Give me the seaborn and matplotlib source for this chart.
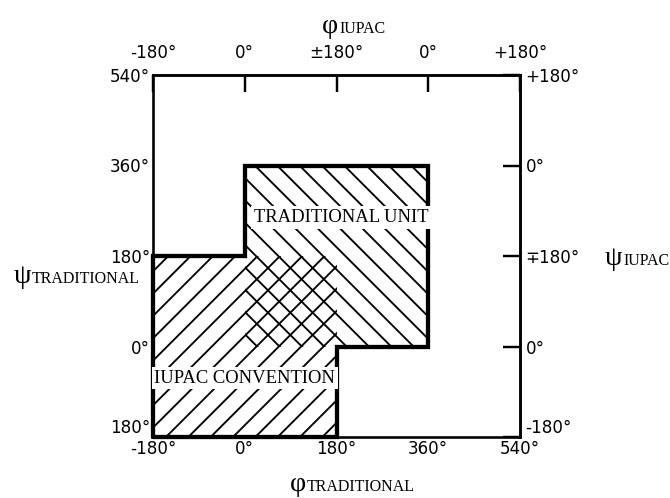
import matplotlib
matplotlib.use("Agg")
import matplotlib.pyplot as plt
import seaborn as sns
import pandas as pd

# ---- data ----
iupac_phi = [-180, 180]      # IUPAC convention range (phi, traditional units)
iupac_psi = [-180, 180]
trad_phi = [0, 360]          # traditional unit range
trad_psi = [0, 360]
ticks = [-180, 0, 180, 360, 540]
bottom_labels = ["-180°", "0°", "180°", "360°", "540°"]
left_labels = ["180°", "0°", "180°", "360°", "540°"]
top_labels = ["-180°", "0°", "±180°", "0°", "+180°"]
right_labels = ["-180°", "0°", "∓180°", "0°", "+180°"]
region_names = ["IUPAC CONVENTION", "TRADITIONAL UNIT"]

sns.set_theme(style="white")
plt.rcParams["font.family"] = ["DejaVu Sans"]
plt.rcParams["text.color"] = "black"
plt.rcParams["hatch.linewidth"] = 1.0
plt.rcParams["hatch.color"] = "black"

DPI = 134
W, H = 670, 498
fig = plt.figure(figsize=(W / DPI, H / DPI), dpi=DPI)
fig.patch.set_facecolor("white")
ax = fig.add_axes([153 / W, 1 - 437 / H, 367 / W, 362 / H])
ax.set_facecolor("white")

# hatched regions
ax.fill_between(iupac_phi, iupac_psi[0], iupac_psi[1], facecolor="none",
                edgecolor="black", linewidth=0, hatch="//", zorder=1)
ax.fill_between(trad_phi, trad_psi[0], trad_psi[1], facecolor="none",
                edgecolor="black", linewidth=0, hatch="\\\\", zorder=1)

# outline of union of both regions
outline = pd.DataFrame({
    "phi": [iupac_phi[0], iupac_phi[1], iupac_phi[1], trad_phi[1], trad_phi[1],
            trad_phi[0], trad_phi[0], iupac_phi[0], iupac_phi[0]],
    "psi": [iupac_psi[0], iupac_psi[0], trad_psi[0], trad_psi[0], trad_psi[1],
            trad_psi[1], iupac_psi[1], iupac_psi[1], iupac_psi[0]],
})
sns.lineplot(data=outline, x="phi", y="psi", sort=False, estimator=None,
             color="black", linewidth=2.3, ax=ax, zorder=3)
for ln in ax.lines:
    ln.set_solid_joinstyle("miter")
    ln.set_clip_on(False)

ax.set_xlim(-180, 540)
ax.set_ylim(-180, 540)
ax.set_xlabel("")
ax.set_ylabel("")
ax.set_xticks(ticks, bottom_labels)
ax.set_yticks(ticks, left_labels)
for s in ax.spines.values():
    s.set_color("black")
    s.set_linewidth(1.4)
ax.tick_params(axis="x", direction="in", length=9, width=1.3, pad=1.5,
               labelsize=9, colors="black")
ax.tick_params(axis="y", direction="in", length=9, width=1.3, pad=1.5,
               labelsize=9, colors="black")
ax.get_yticklabels()[0].set_va("bottom")

top = ax.secondary_xaxis("top")
top.set_xticks(ticks, top_labels)
top.tick_params(direction="in", length=9, width=1.3, pad=7, labelsize=9,
                colors="black")
top.spines["top"].set_linewidth(1.4)
right = ax.secondary_yaxis("right")
right.set_yticks(ticks, right_labels)
right.tick_params(direction="in", length=9, width=1.3, pad=3, labelsize=9,
                  colors="black")
right.spines["right"].set_linewidth(1.4)
right.get_yticklabels()[0].set_va("bottom")

# region names
box = dict(facecolor="white", edgecolor="none", pad=1.5)
ax.text(0, -63, region_names[0], ha="center", va="center", fontsize=10,
        family="Liberation Serif", bbox=box, zorder=4)
ax.text(189, 256, region_names[1], ha="center", va="center", fontsize=10,
        family="Liberation Serif", bbox=box, zorder=4)

# axis labels: symbol + small caps word
def axlabel(x_split, y_base, sym, word):
    fig.text(x_split / W, 1 - y_base / H, sym, ha="right", va="baseline",
             fontsize=15, family="Liberation Serif")
    fig.text(x_split / W + 1 / W, 1 - y_base / H, word, ha="left", va="baseline",
             fontsize=8.6, family="Liberation Serif")

axlabel(306, 491, "φ", "TRADITIONAL")
axlabel(338, 33, "φ", "IUPAC")
axlabel(31, 283, "ψ", "TRADITIONAL")
axlabel(622, 265, "ψ", "IUPAC")

fig.savefig("out.png", dpi=DPI, facecolor="white")
